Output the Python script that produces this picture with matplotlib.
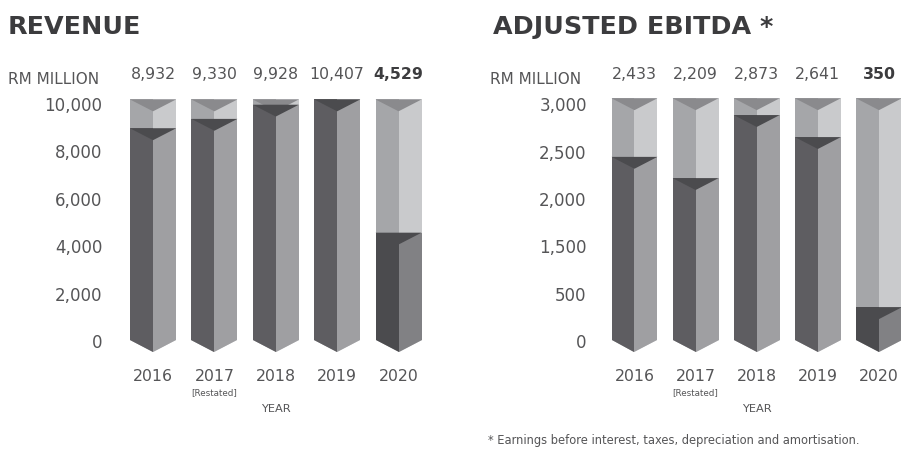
import numpy as np
import matplotlib
matplotlib.use("Agg")
import matplotlib.pyplot as plt
from matplotlib.patches import Polygon

# figures in RM million
years = ["2016", "2017", "2018", "2019", "2020"]
revenue = [8932, 9330, 9928, 10407, 4529]
ebitda = [2433, 2209, 2873, 2641, 350]
revenue_labels = ["8,932", "9,330", "9,928", "10,407", "4,529"]
ebitda_labels = ["2,433", "2,209", "2,873", "2,641", "350"]
revenue_ticks = [0, 2000, 4000, 6000, 8000, 10000]
revenue_ticklabels = ["0", "2,000", "4,000", "6,000", "8,000", "10,000"]
ebitda_ticks = [0, 500, 1500, 2000, 2500, 3000]
ebitda_ticklabels = ["0", "500", "1,500", "2,000", "2,500", "3,000"]

W, H = 901, 456
TXT = "#555557"

EMPTY_L, EMPTY_R, EMPTY_TOP = "#a5a6a9", "#c9cacc", "#8a8a8d"
FILL_L, FILL_R, FILL_TOP = "#5e5d61", "#9f9fa2", "#4b4b4e"
LAST_L, LAST_R, LAST_TOP = "#4b4b4e", "#818184", "#4b4b4e"


def px_axes(fig, left, top, right, bottom):
    return fig.add_axes([left / W, 1 - bottom / H, (right - left) / W, (bottom - top) / H])


def draw_prisms(ax, values, top, d, hw=0.375):
    for i, v in enumerate(values):
        h = min(v, top)
        last = i == len(values) - 1
        fl, fr, ft = (LAST_L, LAST_R, LAST_TOP) if last else (FILL_L, FILL_R, FILL_TOP)
        # empty part of the column
        ax.add_patch(Polygon([(i - hw, 0), (i - hw, top), (i, top), (i, -d)],
                             closed=True, fc=EMPTY_L, ec="none"))
        ax.add_patch(Polygon([(i, -d), (i, top), (i + hw, top), (i + hw, 0)],
                             closed=True, fc=EMPTY_R, ec="none"))
        ax.add_patch(Polygon([(i - hw, top), (i + hw, top), (i, top - d)],
                             closed=True, fc=EMPTY_TOP, ec="none"))
        # filled part up to the value
        ax.add_patch(Polygon([(i - hw, 0), (i - hw, h), (i, h), (i, -d)],
                             closed=True, fc=fl, ec="none"))
        ax.add_patch(Polygon([(i, -d), (i, h), (i + hw, h), (i + hw, 0)],
                             closed=True, fc=fr, ec="none"))
        ax.add_patch(Polygon([(i - hw, h), (i + hw, h), (i, h - d)],
                             closed=True, fc=ft, ec="none"))


def style_axes(ax, labels, label_y, pad):
    for s in ax.spines.values():
        s.set_visible(False)
    ax.set_xticks(range(len(years)))
    ax.set_xticklabels(years, fontsize=11.3, color=TXT)
    ax.tick_params(axis="x", length=0, pad=8)
    ax.tick_params(axis="y", length=0, pad=pad, labelsize=12, labelcolor=TXT)
    trans = ax.get_xaxis_transform()
    for i, lab in enumerate(labels):
        bold = i == len(labels) - 1
        ax.text(i, label_y, lab, transform=trans, ha="center", va="center",
                fontsize=11.3, color="#3c3c3e" if bold else TXT,
                fontweight="bold" if bold else "normal", clip_on=False)
    ax.text(1, -0.136, "[Restated]", transform=trans, ha="center", va="center",
            fontsize=6.3, color=TXT)
    ax.text(2, -0.198, "YEAR", transform=trans, ha="center", va="center",
            fontsize=8.2, color=TXT)


fig = plt.figure(figsize=(W / 100, H / 100), dpi=100)
fig.patch.set_facecolor("white")

# revenue panel
ax1 = px_axes(fig, 116.2, 96.9, 435.4, 357.6)
ax1.set_xlim(-0.6, 4.6)
ax1.set_ylim(-700, 10300)
draw_prisms(ax1, revenue, 10150, 500)
ax1.set_yticks(revenue_ticks)
ax1.set_yticklabels(revenue_ticklabels)
style_axes(ax1, revenue_labels, (357.6 - 75) / 260.7, 10)


# broken value axis: 500 to 1,500 takes one tick step
def fwd(v):
    v = np.asarray(v, dtype=float)
    return np.where(v <= 500, v, np.where(v <= 1500, 500 + (v - 500) / 2, v - 500))


def inv(u):
    u = np.asarray(u, dtype=float)
    return np.where(u <= 500, u, np.where(u <= 1000, 500 + (u - 500) * 2, u + 500))


# adjusted EBITDA panel
ax2 = px_axes(fig, 597.8, 96.9, 901, 357.6)
ax2.set_yscale("function", functions=(fwd, inv))
ax2.set_xlim(-0.6, 4.36)
ax2.set_ylim(-170, 3075)
draw_prisms(ax2, ebitda, 3050, 125)
ax2.set_yticks(ebitda_ticks)
ax2.set_yticklabels(ebitda_ticklabels)
ax2.yaxis.set_minor_locator(matplotlib.ticker.NullLocator())
style_axes(ax2, ebitda_labels, (357.6 - 75) / 260.7, 8)

# headings and notes
fig.text(8 / W, 1 - 27 / H, "REVENUE", fontsize=18.3, fontweight="bold",
         color="#3c3c3e", va="center", ha="left")
fig.text(493 / W, 1 - 27 / H, "ADJUSTED EBITDA *", fontsize=18.3, fontweight="bold",
         color="#3c3c3e", va="center", ha="left")
fig.text(8 / W, 1 - 79 / H, "RM MILLION", fontsize=11, color=TXT, va="center", ha="left")
fig.text(490 / W, 1 - 79 / H, "RM MILLION", fontsize=11, color=TXT, va="center", ha="left")
fig.text(488 / W, 1 - 441 / H,
         "* Earnings before interest, taxes, depreciation and amortisation.",
         fontsize=8.3, color=TXT, va="center", ha="left")

fig.savefig("out.png", dpi=100, facecolor="white")
